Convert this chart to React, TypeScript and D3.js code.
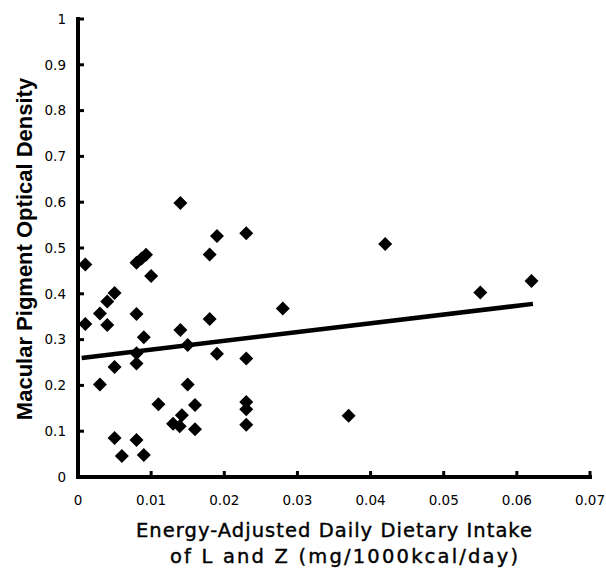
import React from "react";
import * as d3 from "d3";

const xValues = [
  0.001, 0.001, 0.003, 0.004, 0.004, 0.005, 0.003, 0.005, 0.005, 0.006,
  0.008, 0.009, 0.008, 0.0087, 0.0093, 0.010, 0.008, 0.009, 0.008, 0.008,
  0.011, 0.014, 0.014, 0.015, 0.015, 0.016, 0.016, 0.013, 0.0142, 0.0139,
  0.018, 0.019, 0.018, 0.019, 0.023, 0.023, 0.023, 0.023, 0.023, 0.028,
  0.037, 0.042, 0.055, 0.062,
];
const yValues = [
  0.464, 0.334, 0.357, 0.332, 0.383, 0.402, 0.202, 0.240, 0.085, 0.046,
  0.081, 0.048, 0.468, 0.477, 0.485, 0.439, 0.356, 0.305, 0.270, 0.248,
  0.159, 0.598, 0.321, 0.288, 0.202, 0.157, 0.104, 0.116, 0.135, 0.111,
  0.486, 0.526, 0.345, 0.269, 0.532, 0.259, 0.164, 0.148, 0.114, 0.368,
  0.134, 0.509, 0.403, 0.428,
];
const fitX = [0.0005, 0.0622];
const fitY = [0.260, 0.378];
const xTicks = [0, 0.01, 0.02, 0.03, 0.04, 0.05, 0.06, 0.07];
const yTicks = [0, 0.1, 0.2, 0.3, 0.4, 0.5, 0.6, 0.7, 0.8, 0.9, 1];
const xTitle = ["Energy-Adjusted Daily Dietary Intake", "of L and Z (mg/1000kcal/day)"];
const yTitle = "Macular Pigment Optical Density";

const W = 606;
const H = 570;

const diamond = {
  draw(ctx: any, size: number) {
    const r = Math.sqrt(size / 2);
    ctx.moveTo(0, -r);
    ctx.lineTo(r, 0);
    ctx.lineTo(0, r);
    ctx.lineTo(-r, 0);
    ctx.closePath();
  },
};

const titleLayout = [
  { cx: 334, y: 537, len: 396 },
  { cx: 344, y: 563, len: 348 },
];

export default function App() {
  const x = d3.scaleLinear().domain([0, 0.07]).range([78, 590]);
  const y = d3.scaleLinear().domain([0, 1]).range([477, 19]);
  const sym = d3.symbol().type(diamond as any).size(98)();
  const line = d3
    .line<number>()
    .x((d) => x(fitX[d]))
    .y((d) => y(fitY[d]))([0, 1]);
  const tickFont = "'DejaVu Sans', sans-serif";
  const x0 = x(0);
  const y0 = y(0);

  return (
    <svg
      width={W}
      height={H}
      style={{ position: "absolute", left: 0, top: 0, background: "#fff" }}
    >
      <rect width={W} height={H} fill="#fff" />
      {/* axes */}
      <line x1={x0} x2={x0} y1={y(1) - 2} y2={y0 + 2} stroke="#000" strokeWidth={4} />
      <line x1={x0 - 2} x2={x(0.07) + 2} y1={y0} y2={y0} stroke="#000" strokeWidth={4} />
      {yTicks.map((t) => (
        <g key={"yt" + t}>
          <line x1={x0} x2={x0 + 6} y1={y(t)} y2={y(t)} stroke="#000" strokeWidth={3} />
          <text
            x={66}
            y={y(t)}
            dy="0.35em"
            textAnchor="end"
            fontFamily={tickFont}
            fontSize={13.5}
            fill="#000"
          >
            {d3.format("~g")(t)}
          </text>
        </g>
      ))}
      {xTicks.map((t) => (
        <g key={"xt" + t}>
          {t > 0 && (
            <line x1={x(t)} x2={x(t)} y1={y0} y2={y0 - 6} stroke="#000" strokeWidth={3} />
          )}
          <text
            x={x(t)}
            y={505}
            textAnchor="middle"
            fontFamily={tickFont}
            fontSize={13.5}
            fill="#000"
          >
            {d3.format("~g")(t)}
          </text>
        </g>
      ))}
      {/* regression line */}
      <path d={line || ""} stroke="#000" strokeWidth={4.5} fill="none" />
      {/* points */}
      {xValues.map((v, i) => (
        <path
          key={"p" + i}
          d={sym || ""}
          transform={`translate(${x(v)},${y(yValues[i])})`}
          fill="#000"
        />
      ))}
      {/* titles */}
      <text
        transform={`translate(32,249) rotate(-90)`}
        textAnchor="middle"
        fontFamily="'Liberation Sans', Arial, sans-serif"
        fontWeight="bold"
        fontSize={22}
        fill="#000"
      >
        {yTitle}
      </text>
      {xTitle.map((s, i) => (
        <text
          key={"xt" + i}
          x={titleLayout[i].cx}
          y={titleLayout[i].y}
          textAnchor="middle"
          fontFamily={tickFont}
          fontSize={19.5}
          textLength={titleLayout[i].len}
          lengthAdjust="spacing"
          stroke="#000"
          strokeWidth={0.4}
          fill="#000"
        >
          {s}
        </text>
      ))}
    </svg>
  );
}
